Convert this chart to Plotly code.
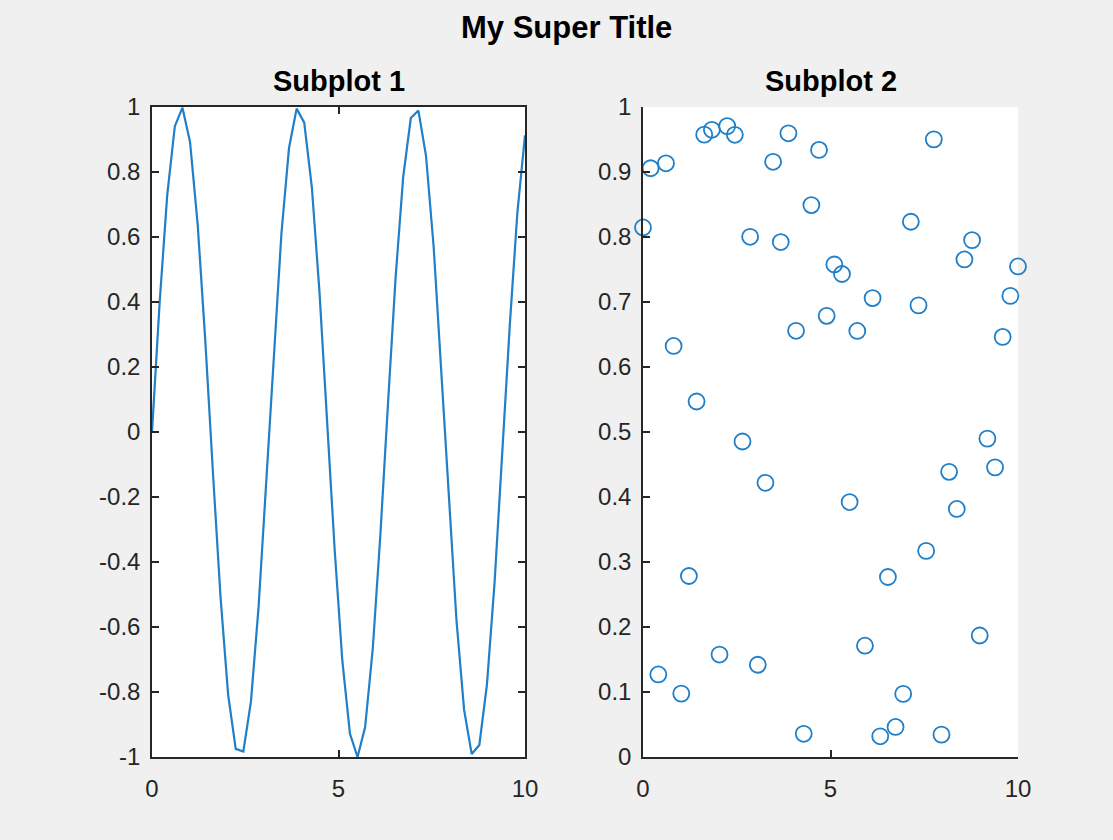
import plotly.graph_objects as go

# ---- data ----
x_line = [i * 10 / 49 for i in range(50)]  # sample positions (linspace 0..10, 50 pts)
y_line = [0.000, 0.397, 0.729, 0.941, 0.998, 0.892, 0.639, 0.281, -0.123, -0.507,
          -0.808, -0.975, -0.983, -0.829, -0.539, -0.160, 0.245, 0.610, 0.874, 0.995,
          0.952, 0.753, 0.431, 0.037, -0.363, -0.703, -0.928, -1.000, -0.908, -0.667,
          -0.316, 0.087, 0.475, 0.785, 0.966, 0.989, 0.849, 0.570, 0.197, -0.209,
          -0.580, -0.855, -0.991, -0.963, -0.777, -0.464, -0.074, 0.328, 0.676, 0.913]

x_scatter = x_line
y_scatter = [0.8147, 0.9058, 0.1270, 0.9134, 0.6324, 0.0975, 0.2785, 0.5469, 0.9575, 0.9649,
             0.1576, 0.9706, 0.9572, 0.4854, 0.8003, 0.1419, 0.4218, 0.9157, 0.7922, 0.9595,
             0.6557, 0.0357, 0.8491, 0.9340, 0.6787, 0.7577, 0.7431, 0.3922, 0.6555, 0.1712,
             0.7060, 0.0318, 0.2769, 0.0462, 0.0971, 0.8235, 0.6948, 0.3171, 0.9502, 0.0344,
             0.4387, 0.3816, 0.7655, 0.7952, 0.1869, 0.4898, 0.4456, 0.6463, 0.7094, 0.7547]

x_ticks = [0, 5, 10]
x_ticktext = ["0", "5", "10"]
y1_ticks = [-1, -0.8, -0.6, -0.4, -0.2, 0, 0.2, 0.4, 0.6, 0.8, 1]
y1_ticktext = ["-1", "-0.8", "-0.6", "-0.4", "-0.2", "0", "0.2", "0.4", "0.6", "0.8", "1"]
y2_ticks = [0, 0.1, 0.2, 0.3, 0.4, 0.5, 0.6, 0.7, 0.8, 0.9, 1]
y2_ticktext = ["0", "0.1", "0.2", "0.3", "0.4", "0.5", "0.6", "0.7", "0.8", "0.9", "1"]

super_title = "My Super Title"
sub_titles = ["Subplot 1", "Subplot 2"]

# ---- style ----
W, H = 1113, 840
BLUE = "#1f7fc8"
AX = "#262626"
FONT = "Liberation Sans, Arial, Helvetica, sans-serif"

fig = go.Figure()
fig.add_trace(go.Scatter(x=x_line, y=y_line, mode="lines",
                         line=dict(color=BLUE, width=2.2), xaxis="x", yaxis="y",
                         showlegend=False, hoverinfo="skip"))
fig.add_trace(go.Scatter(x=x_scatter, y=y_scatter, mode="markers",
                         marker=dict(symbol="circle-open", size=16, color=BLUE,
                                     line=dict(width=1.8, color=BLUE)),
                         cliponaxis=False, xaxis="x2", yaxis="y2",
                         showlegend=False, hoverinfo="skip"))

ydom = [1 - 757 / H, 1 - 107 / H]
common = dict(showgrid=False, zeroline=False, showline=True, linecolor=AX, linewidth=1.5,
              ticks="inside", ticklen=7, tickwidth=1.5, tickcolor=AX, automargin=False,
              tickfont=dict(family=FONT, size=24, color=AX))
xcommon = dict(common, ticklabelstandoff=9)
ycommon = dict(common, ticklabelstandoff=5)

fig.update_layout(
    template="none",
    width=W, height=H,
    margin=dict(l=0, r=0, t=0, b=0, pad=0, autoexpand=False),
    paper_bgcolor="#f0f0f0", plot_bgcolor="white",
    xaxis=dict(domain=[152 / W, 525 / W], range=[0, 10], tickvals=x_ticks,
               ticktext=x_ticktext, anchor="y", mirror="ticks", **xcommon),
    yaxis=dict(domain=ydom, range=[-1, 1], tickvals=y1_ticks, ticktext=y1_ticktext,
               anchor="x", mirror="ticks", **ycommon),
    xaxis2=dict(domain=[643 / W, 1018 / W], range=[0, 10], tickvals=x_ticks,
                ticktext=x_ticktext, anchor="y2", **xcommon),
    yaxis2=dict(domain=ydom, range=[0, 1], tickvals=y2_ticks, ticktext=y2_ticktext,
                anchor="x2", **ycommon),
    annotations=[
        dict(text="<b>%s</b>" % super_title, x=566 / W, y=1 - 28 / H, xref="paper", yref="paper",
             xanchor="center", yanchor="middle", showarrow=False,
             font=dict(family=FONT, size=31, color="black")),
        dict(text="<b>%s</b>" % sub_titles[0], x=338.5 / W, y=1 - 81 / H, xref="paper", yref="paper",
             xanchor="center", yanchor="middle", showarrow=False,
             font=dict(family=FONT, size=29, color="black")),
        dict(text="<b>%s</b>" % sub_titles[1], x=830.5 / W, y=1 - 81 / H, xref="paper", yref="paper",
             xanchor="center", yanchor="middle", showarrow=False,
             font=dict(family=FONT, size=29, color="black")),
    ],
)

fig.write_html("out.html", config={"displayModeBar": False},
               post_script="document.body.style.margin='0';")
